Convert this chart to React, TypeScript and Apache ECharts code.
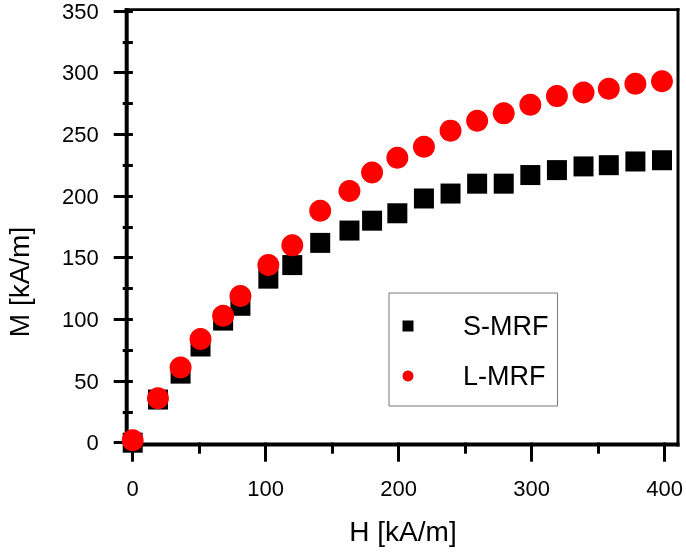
import React, { useEffect, useRef } from "react";
import * as echarts from "echarts";

const H_VALUES = [0, 19, 36, 51, 68, 81, 102, 120, 141, 163, 180, 199, 219, 239, 259, 279, 299, 319, 339, 358, 378, 398];
const M_SMRF = [0, 35, 56, 78, 99, 111, 133, 144, 162, 172, 180, 186, 198, 202, 210, 210, 217, 221, 224, 225, 228, 229];
const M_LMRF = [2, 36, 61, 84, 103, 119, 144, 160, 188, 204, 219, 231, 240, 253, 261, 267, 274, 281, 284, 287, 291, 293];
const SERIES_NAMES = ["S-MRF", "L-MRF"];
const X_TITLE = "H [kA/m]";
const Y_TITLE = "M [kA/m]";

const FONT = "'Liberation Sans', Arial, Helvetica, sans-serif";

// frame (plot box) edges in pixels
const FRAME = { left: 126.7, right: 678, top: 9.7, bottom: 444.5 };

function frameLine(x1: number, y1: number, x2: number, y2: number, width: number) {
  return {
    type: "line",
    shape: { x1, y1, x2, y2 },
    style: { stroke: "#000", lineWidth: width },
  };
}

export default function App() {
  const ref = useRef<HTMLDivElement>(null);
  useEffect(() => {
    if (!ref.current) return;
    const chart = echarts.init(ref.current, undefined, { renderer: "svg" });
    const sData = H_VALUES.map((h, i) => [h, M_SMRF[i]]);
    const lData = H_VALUES.map((h, i) => [h, M_LMRF[i]]);
    const F = FRAME;
    chart.setOption({
      animation: false,
      grid: [{ left: 132.7, right: 20, top: 10, bottom: 109.3 }],
      xAxis: [
        {
          type: "value", position: "bottom", offset: 1.5,
          min: 0, max: 400, interval: 100,
          axisLine: { show: false }, splitLine: { show: false },
          axisTick: { show: true, inside: false, length: 19, lineStyle: { color: "#000", width: 3 } },
          minorTick: { show: true, splitNumber: 2, length: 11, lineStyle: { color: "#000", width: 3 } },
          axisLabel: { color: "#000", fontSize: 22, fontFamily: FONT, margin: 33 },
        },
        {
          type: "value", position: "top", offset: 0,
          min: 0, max: 400, interval: 100,
          axisLine: { show: false }, splitLine: { show: false }, axisLabel: { show: false },
          axisTick: { show: true, inside: true, length: 13, lineStyle: { color: "#000", width: 2.5 } },
          minorTick: { show: true, splitNumber: 2, length: 7, lineStyle: { color: "#000", width: 2.5 } },
        },
      ],
      yAxis: [
        {
          type: "value", position: "left", offset: 6,
          min: 0, max: 350, interval: 50,
          axisLine: { show: false }, splitLine: { show: false },
          axisTick: { show: true, inside: false, length: 19, lineStyle: { color: "#000", width: 3 } },
          minorTick: { show: true, splitNumber: 2, length: 10, lineStyle: { color: "#000", width: 3 } },
          axisLabel: { color: "#000", fontSize: 22, fontFamily: FONT, margin: 28 },
        },
        {
          type: "value", position: "right", offset: 12,
          min: 0, max: 350, interval: 50,
          axisLine: { show: false }, splitLine: { show: false }, axisLabel: { show: false },
          axisTick: { show: true, inside: true, length: 13, lineStyle: { color: "#000", width: 2.5 } },
          minorTick: { show: true, splitNumber: 2, length: 6, lineStyle: { color: "#000", width: 2.5 } },
        },
      ],
      legend: {
        orient: "vertical",
        left: 389,
        top: 293,
        padding: [18, 9, 15, 13.5],
        itemGap: 20,
        itemWidth: 11,
        itemHeight: 11,
        borderColor: "#777",
        borderWidth: 1,
        data: [
          { name: SERIES_NAMES[0], icon: "rect" },
          { name: SERIES_NAMES[1], icon: "circle" },
        ],
        textStyle: {
          color: "#000",
          fontSize: 27,
          fontFamily: FONT,
          lineHeight: 30,
          padding: [0, 0, 0, 44.5],
        },
      },
      series: [
        {
          name: SERIES_NAMES[0], type: "scatter", xAxisIndex: 0, yAxisIndex: 0,
          symbol: "rect", symbolSize: 20, clip: false, z: 5,
          itemStyle: { color: "#000000", opacity: 1 },
          data: sData,
        },
        {
          name: SERIES_NAMES[1], type: "scatter", xAxisIndex: 0, yAxisIndex: 0,
          symbol: "circle", symbolSize: 22, clip: false, z: 6,
          itemStyle: { color: "#ff0000", opacity: 1 },
          data: lData,
        },
      ],
      graphic: [
        frameLine(F.left - 2, F.bottom, F.right + 1.5, F.bottom, 4),
        frameLine(F.left - 2, F.top, F.right + 1.5, F.top, 2.7),
        frameLine(F.left, F.top - 1.35, F.left, F.bottom + 2, 4),
        frameLine(F.right, F.top - 1.35, F.right, F.bottom + 2, 3),
        {
          type: "text", x: 403, y: 531,
          style: { text: X_TITLE, font: `28px ${FONT}`, fill: "#000", textAlign: "center", textVerticalAlign: "middle" },
        },
        {
          type: "text", x: 19, y: 282, rotation: Math.PI / 2,
          style: { text: Y_TITLE, font: `28px ${FONT}`, fill: "#000", textAlign: "center", textVerticalAlign: "middle" },
        },
      ],
    });
    return () => chart.dispose();
  }, []);
  return (
    <div
      ref={ref}
      style={{ position: "fixed", left: 0, top: 0, width: 686, height: 552 }}
    />
  );
}
